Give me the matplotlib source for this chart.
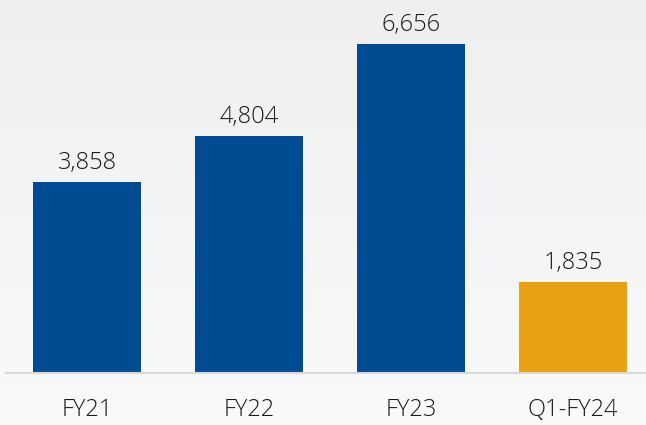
import numpy as np
import matplotlib.pyplot as plt

categories = ['FY21', 'FY22', 'FY23', 'Q1-FY24']
values = [3858, 4804, 6656, 1835]
bar_colors = ['#004B91', '#004B91', '#004B91', '#E8A213']

plt.rcParams['font.family'] = ['Open Sans', 'DejaVu Sans']

fig = plt.figure(figsize=(6.46, 4.25), dpi=100)

# soft grey background gradient
bg = fig.add_axes([0, 0, 1, 1])
grad = np.linspace(0, 1, 256).reshape(-1, 1)
bg.imshow(grad, aspect='auto', cmap=plt.matplotlib.colors.LinearSegmentedColormap.from_list(
    'bg', ['#efefef', '#f3f4f5', '#fafafa']), extent=[0, 1, 0, 1], origin='upper')
bg.set_axis_off()

ax = fig.add_axes([6 / 646, 52 / 425, 640 / 646, 373 / 425])
ax.patch.set_alpha(0)
x = np.arange(len(categories))
bars = ax.bar(x, values, width=0.667, color=bar_colors)

for xi, v in zip(x, values):
    ax.annotate(f'{v:,}', (xi, v), xytext=(0, 5), textcoords='offset points',
                ha='center', va='bottom', fontsize=17, fontweight='light',
                color='#1a1a1a')

ax.set_xlim(-0.5, 3.45)
ax.set_ylim(0, 7546)
ax.set_xticks(x)
ax.set_xticklabels(categories, fontsize=17, fontweight='light', color='#1a1a1a')
ax.tick_params(axis='x', length=0, pad=18)
ax.set_yticks([])
for s in ['top', 'right', 'left']:
    ax.spines[s].set_visible(False)
ax.spines['bottom'].set_color('#d9d9d9')
ax.spines['bottom'].set_linewidth(1.5)

fig.savefig('out.png', dpi=100)
